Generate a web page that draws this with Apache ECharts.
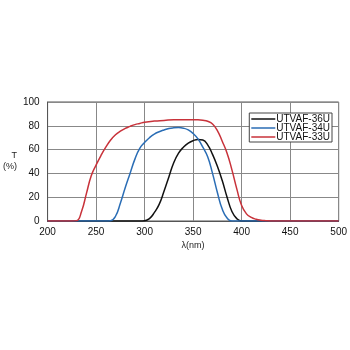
<!DOCTYPE html>
<html>
<head>
<meta charset="utf-8">
<script src="https://cdn.jsdelivr.net/npm/echarts@6/dist/echarts.min.js"></script>
<style>html,body{margin:0;padding:0;background:#fff}#c{width:350px;height:350px}</style>
</head>
<body>
<div id="c"></div>
<script>
// Transmission spectra (wavelength nm, T %)
const seriesNames = ['UTVAF-36U', 'UTVAF-34U', 'UTVAF-33U'];
const seriesColors = ['#111111', '#2a6db5', '#c8323a'];
const xTicks = [200, 250, 300, 350, 400, 450, 500];
const yTicks = [0, 20, 40, 60, 80, 100];

const t36U = [[200,0],[250,0],[295,0],[300,0.2],[305,2],[310,7],[315,14],[320,25],[325,37],[330,49],[335,57],[340,62],[345,65.5],[350,67.5],[355,68.5],[360,68],[365,64],[370,56],[375,46],[380,34],[385,20],[390,8],[395,2],[400,0],[450,0],[500,0]];
const t34U = [[200,0],[230,0],[260,0],[265,0.3],[270,4],[275,15],[280,28],[285,40],[290,52],[295,61],[300,66],[305,70],[310,73],[315,75],[320,76.5],[325,77.7],[330,78.3],[335,78.5],[340,78],[345,76.5],[350,73.5],[355,69],[360,62],[365,54],[370,40],[375,24],[380,10],[385,2.5],[390,0],[445,0],[500,0]];
const t33U = [[200,0],[215,0],[225,0],[230,0.3],[235,8],[240,23],[245,38],[250,47],[255,55],[260,62],[265,68],[270,72.5],[275,75.5],[280,77.8],[285,79.5],[290,81],[295,82],[300,83],[310,84],[320,84.5],[330,85],[340,85],[350,85],[355,85],[360,84.7],[365,83.8],[370,81.5],[375,76],[380,67],[385,57],[390,43],[395,27],[400,13],[405,6],[410,3],[415,1.5],[420,0.7],[425,0.3],[430,0],[465,0],[500,0]];

const chart = echarts.init(document.getElementById('c'));
const dataSets = [t36U, t34U, t33U];

chart.setOption({
  animation: false,
  textStyle: { fontFamily: 'Liberation Sans, Arial, sans-serif' },
  grid: { left: 44, right: 9, top: 102, bottom: 129, show: true, borderColor: '#555', borderWidth: 1 },
  legend: {
    data: seriesNames,
    orient: 'vertical',
    right: 18,
    top: 113,
    backgroundColor: '#fff',
    borderColor: '#444',
    borderWidth: 1,
    padding: [1, 2, 0, 2],
    itemGap: -1,
    itemWidth: 24,
    itemHeight: 1.5,
    icon: 'rect',
    textStyle: { fontSize: 10, color: '#111', padding: [0, 0, 0, -4], lineHeight: 8 }
  },
  xAxis: {
    type: 'value',
    min: 200, max: 500, interval: 50,
    name: 'λ(nm)',
    nameLocation: 'middle',
    nameGap: 20,
    nameTextStyle: { fontSize: 9, color: '#222' },
    axisLine: { show: true, lineStyle: { color: '#555' } },
    axisTick: { show: false },
    axisLabel: { fontSize: 10, color: '#111', margin: 6, customValues: xTicks },
    splitLine: { show: true, lineStyle: { color: '#888', width: 1 } }
  },
  yAxis: {
    type: 'value',
    min: 0, max: 100, interval: 20,
    name: 'T\n(%)',
    nameLocation: 'middle',
    nameRotate: 0,
    nameGap: 22,
    nameTextStyle: { fontSize: 9, color: '#222', lineHeight: 11 },
    axisLine: { show: true, lineStyle: { color: '#555' } },
    axisTick: { show: false },
    axisLabel: { fontSize: 10, color: '#111', margin: 8, customValues: yTicks },
    splitLine: { show: true, lineStyle: { color: '#888', width: 1 } }
  },
  series: seriesNames.map((n, i) => ({
    name: n,
    type: 'line',
    data: dataSets[i],
    smooth: 0.5,
    showSymbol: false,
    color: seriesColors[i],
    lineStyle: { width: 1.5, color: seriesColors[i] }
  }))
});
</script>
</body>
</html>
